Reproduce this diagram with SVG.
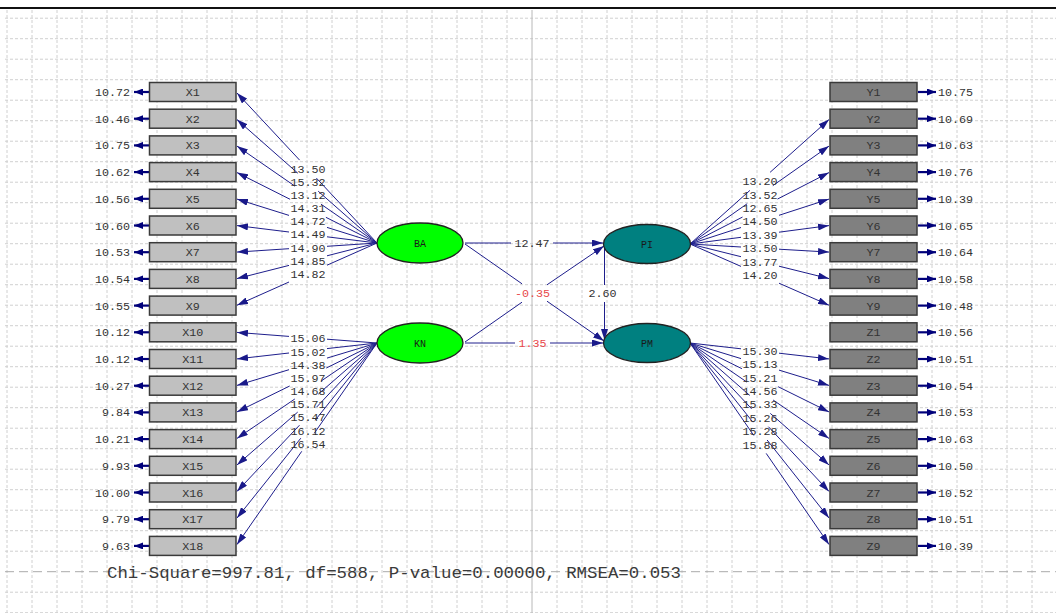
<svg xmlns="http://www.w3.org/2000/svg" width="1056" height="613" viewBox="0 0 1056 613">
<style>
.grid{stroke:#d0d0d0;stroke-width:1;stroke-dasharray:3 2;fill:none}
.bx{fill:#c0c0c0;stroke:#3a3a3a;stroke-width:1.5}
.by{fill:#808080;stroke:#3a3a3a;stroke-width:1.5}
.t{font-family:"Liberation Mono","Courier New",monospace;font-size:11.7px;fill:#333}
.c{text-anchor:middle}
.e{text-anchor:end}
.ln{stroke:#1e1e8c;stroke-width:1;fill:none}
.err{stroke:#00007a;stroke-width:2.2;fill:none}
.red{fill:#e8474a}
.lv{stroke:#222;stroke-width:1.3}
.g{fill:#00ff00}
.tl{fill:#008080}
.lt{font-family:"Liberation Mono","Courier New",monospace;font-size:10px;fill:#1a1a1a}
</style>
<defs>
<marker id="ah" markerUnits="userSpaceOnUse" markerWidth="11" markerHeight="7" refX="11" refY="3.5" orient="auto"><path d="M0,0 L11,3.5 L0,7 z" fill="#1a1a8a"/></marker>
<marker id="ae" markerUnits="userSpaceOnUse" markerWidth="9" markerHeight="7" refX="9" refY="3.5" orient="auto"><path d="M0,0 L9,3.5 L0,7 z" fill="#00007a"/></marker>
</defs>
<rect width="1056" height="613" fill="#ffffff"/>
<g id="grid">
<path class="grid" d="M7 10V613M32 10V613M57 10V613M82 10V613M107 10V613M132 10V613M157 10V613M182 10V613M207 10V613M232 10V613M257 10V613M282 10V613M307 10V613M332 10V613M357 10V613M382 10V613M407 10V613M432 10V613M457 10V613M482 10V613M507 10V613M557 10V613M582 10V613M607 10V613M632 10V613M657 10V613M682 10V613M707 10V613M732 10V613M757 10V613M782 10V613M807 10V613M832 10V613M857 10V613M882 10V613M907 10V613M932 10V613M957 10V613M982 10V613M1007 10V613M1032 10V613"/>
<path class="grid" d="M5 18.2H1056M5 38.7H1056M5 59.2H1056M5 79.7H1056M5 100.2H1056M5 120.7H1056M5 141.2H1056M5 161.7H1056M5 182.2H1056M5 202.7H1056M5 223.2H1056M5 243.7H1056M5 264.2H1056M5 284.7H1056M5 305.2H1056M5 325.7H1056M5 346.2H1056M5 366.7H1056M5 387.2H1056M5 407.7H1056M5 428.2H1056M5 448.7H1056M5 469.2H1056M5 489.7H1056M5 510.2H1056M5 530.7H1056M5 551.2H1056M5 592.2H1056M5 612.7H1056"/>
<path d="M532 10V613" stroke="#b8b8b8" stroke-width="1" fill="none"/>
<path d="M5 571.7H1056" stroke="#ababab" stroke-width="1" stroke-dasharray="9 5" fill="none"/>
<path d="M0 8H1056" stroke="#111" stroke-width="2" fill="none"/>
</g>
<g id="connectors">
<path class="ln" d="M377,243 L316.4,178.1"/><path class="ln" d="M299.6,160.1 L237,93" marker-end="url(#ah)"/>
<path class="ln" d="M377,243 L318.2,191.2"/><path class="ln" d="M297.8,173.2 L237,119.6" marker-end="url(#ah)"/>
<path class="ln" d="M377,243 L321,204.2"/><path class="ln" d="M295,186.2 L237,146.1" marker-end="url(#ah)"/>
<path class="ln" d="M377,243 L325.9,217.3"/><path class="ln" d="M290.1,199.3 L237,172.6" marker-end="url(#ah)"/>
<path class="ln" d="M377,243 L327,227.4"/><path class="ln" d="M289,215.4 L237,199.1" marker-end="url(#ah)"/>
<path class="ln" d="M377,243 L327,236.8"/><path class="ln" d="M289,232 L237,225.6" marker-end="url(#ah)"/>
<path class="ln" d="M377,243 L327,246.3"/><path class="ln" d="M289,248.7 L237,252.1" marker-end="url(#ah)"/>
<path class="ln" d="M377,243 L327,255.8"/><path class="ln" d="M289,265.4 L237,278.6" marker-end="url(#ah)"/>
<path class="ln" d="M377,243 L327,265.2"/><path class="ln" d="M289,282 L237,305.2" marker-end="url(#ah)"/>
<path class="ln" d="M377,343 L327,339.2"/><path class="ln" d="M289,336.4 L237,332.4" marker-end="url(#ah)"/>
<path class="ln" d="M377,343 L327,348.6"/><path class="ln" d="M289,353 L237,358.9" marker-end="url(#ah)"/>
<path class="ln" d="M377,343 L327,358.1"/><path class="ln" d="M289,369.7 L237,385.4" marker-end="url(#ah)"/>
<path class="ln" d="M377,343 L326.3,368"/><path class="ln" d="M289.7,386 L237,411.9" marker-end="url(#ah)"/>
<path class="ln" d="M377,343 L321.2,381"/><path class="ln" d="M294.8,399 L237,438.4" marker-end="url(#ah)"/>
<path class="ln" d="M377,343 L318.3,394.1"/><path class="ln" d="M297.7,412.1 L237,464.9" marker-end="url(#ah)"/>
<path class="ln" d="M377,343 L316.5,407.2"/><path class="ln" d="M299.5,425.2 L237,491.4" marker-end="url(#ah)"/>
<path class="ln" d="M377,343 L315.2,420.2"/><path class="ln" d="M300.8,438.2 L237,518" marker-end="url(#ah)"/>
<path class="ln" d="M377,343 L314.25,433.3"/><path class="ln" d="M301.75,451.3 L237,544.5" marker-end="url(#ah)"/>
<path class="ln" d="M690,244 L749.9,190.4"/><path class="ln" d="M770.1,172.3 L829,119.6" marker-end="url(#ah)"/>
<path class="ln" d="M690,244 L747.2,203.7"/><path class="ln" d="M772.8,185.7 L829,146.1" marker-end="url(#ah)"/>
<path class="ln" d="M690,244 L742.5,217.05"/><path class="ln" d="M777.5,199.05 L829,172.6" marker-end="url(#ah)"/>
<path class="ln" d="M690,244 L741,227.5"/><path class="ln" d="M779,215.3 L829,199.1" marker-end="url(#ah)"/>
<path class="ln" d="M690,244 L741,237.3"/><path class="ln" d="M779,232.2 L829,225.6" marker-end="url(#ah)"/>
<path class="ln" d="M690,244 L741,247"/><path class="ln" d="M779,249.2 L829,252.1" marker-end="url(#ah)"/>
<path class="ln" d="M690,244 L741,256.7"/><path class="ln" d="M779,266.2 L829,278.6" marker-end="url(#ah)"/>
<path class="ln" d="M690,244 L741,266.4"/><path class="ln" d="M779,283.2 L829,305.2" marker-end="url(#ah)"/>
<path class="ln" d="M690,343 L741,348.8"/><path class="ln" d="M779,353.2 L829,358.9" marker-end="url(#ah)"/>
<path class="ln" d="M690,343 L741,358.6"/><path class="ln" d="M779,370.1 L829,385.4" marker-end="url(#ah)"/>
<path class="ln" d="M690,343 L741.9,368.7"/><path class="ln" d="M778.1,386.7 L829,411.9" marker-end="url(#ah)"/>
<path class="ln" d="M690,343 L746.9,382.1"/><path class="ln" d="M773.1,400 L829,438.4" marker-end="url(#ah)"/>
<path class="ln" d="M690,343 L749.7,395.4"/><path class="ln" d="M770.3,413.4 L829,464.9" marker-end="url(#ah)"/>
<path class="ln" d="M690,343 L751.6,408.8"/><path class="ln" d="M768.4,426.7 L829,491.4" marker-end="url(#ah)"/>
<path class="ln" d="M690,343 L752.9,422.2"/><path class="ln" d="M767.1,440 L829,518" marker-end="url(#ah)"/>
<path class="ln" d="M690,343 L753.8,435.5"/><path class="ln" d="M766.2,453.4 L829,544.5" marker-end="url(#ah)"/>
<path class="ln" d="M465,243 H511"/><path class="ln" d="M553,243 H603" marker-end="url(#ah)"/>
<path class="ln" d="M465,343 H515"/><path class="ln" d="M550,343 H603" marker-end="url(#ah)"/>
<path class="ln" d="M465,244 L522,283.8"/><path class="ln" d="M547,301.2 L604,341" marker-end="url(#ah)"/>
<path class="ln" d="M465,342 L522,302.2"/><path class="ln" d="M547,284.8 L604,246" marker-end="url(#ah)"/>
<path class="ln" d="M604.5,247 V285"/><path class="ln" d="M604.5,302 V340" marker-end="url(#ah)"/>
<path class="err" d="M149,92H134" marker-end="url(#ae)"/><path class="err" d="M149,118.7H134" marker-end="url(#ae)"/><path class="err" d="M149,145.4H134" marker-end="url(#ae)"/><path class="err" d="M149,172.1H134" marker-end="url(#ae)"/><path class="err" d="M149,198.8H134" marker-end="url(#ae)"/><path class="err" d="M149,225.5H134" marker-end="url(#ae)"/><path class="err" d="M149,252.2H134" marker-end="url(#ae)"/><path class="err" d="M149,278.9H134" marker-end="url(#ae)"/><path class="err" d="M149,305.6H134" marker-end="url(#ae)"/><path class="err" d="M149,332.3H134" marker-end="url(#ae)"/><path class="err" d="M149,359H134" marker-end="url(#ae)"/><path class="err" d="M149,385.7H134" marker-end="url(#ae)"/><path class="err" d="M149,412.4H134" marker-end="url(#ae)"/><path class="err" d="M149,439.1H134" marker-end="url(#ae)"/><path class="err" d="M149,465.8H134" marker-end="url(#ae)"/><path class="err" d="M149,492.5H134" marker-end="url(#ae)"/><path class="err" d="M149,519.2H134" marker-end="url(#ae)"/><path class="err" d="M149,545.9H134" marker-end="url(#ae)"/>
<path class="err" d="M918,92H936" marker-end="url(#ae)"/><path class="err" d="M918,118.7H936" marker-end="url(#ae)"/><path class="err" d="M918,145.4H936" marker-end="url(#ae)"/><path class="err" d="M918,172.1H936" marker-end="url(#ae)"/><path class="err" d="M918,198.8H936" marker-end="url(#ae)"/><path class="err" d="M918,225.5H936" marker-end="url(#ae)"/><path class="err" d="M918,252.2H936" marker-end="url(#ae)"/><path class="err" d="M918,278.9H936" marker-end="url(#ae)"/><path class="err" d="M918,305.6H936" marker-end="url(#ae)"/><path class="err" d="M918,332.3H936" marker-end="url(#ae)"/><path class="err" d="M918,359H936" marker-end="url(#ae)"/><path class="err" d="M918,385.7H936" marker-end="url(#ae)"/><path class="err" d="M918,412.4H936" marker-end="url(#ae)"/><path class="err" d="M918,439.1H936" marker-end="url(#ae)"/><path class="err" d="M918,465.8H936" marker-end="url(#ae)"/><path class="err" d="M918,492.5H936" marker-end="url(#ae)"/><path class="err" d="M918,519.2H936" marker-end="url(#ae)"/><path class="err" d="M918,545.9H936" marker-end="url(#ae)"/>
<g class="t c">
<text x="308" y="173.1">13.50</text><text x="308" y="186.2">15.32</text><text x="308" y="199.2">13.12</text><text x="308" y="212.3">14.31</text><text x="308" y="225.4">14.72</text><text x="308" y="238.4">14.49</text><text x="308" y="251.5">14.90</text><text x="308" y="264.6">14.85</text><text x="308" y="277.6">14.82</text>
<text x="308" y="342.3">15.06</text><text x="308" y="355.5">15.02</text><text x="308" y="368.8">14.38</text><text x="308" y="382">15.97</text><text x="308" y="395">14.68</text><text x="308" y="408">15.71</text><text x="308" y="421.3">15.47</text><text x="308" y="434.5">16.12</text><text x="308" y="447.8">16.54</text>
<text x="760" y="185.4">13.20</text><text x="760" y="198.7">13.52</text><text x="760" y="212.1">12.65</text><text x="760" y="225.4">14.50</text><text x="760" y="238.8">13.39</text><text x="760" y="252.1">13.50</text><text x="760" y="265.5">13.77</text><text x="760" y="278.8">14.20</text>
<text x="760" y="355">15.30</text><text x="760" y="368.4">15.13</text><text x="760" y="381.7">15.21</text><text x="760" y="395.1">14.56</text><text x="760" y="408.4">15.33</text><text x="760" y="421.8">15.26</text><text x="760" y="435.1">15.28</text><text x="760" y="448.5">15.88</text>
<text x="532" y="247.3">12.47</text><text x="532.5" y="297.3" class="red">-0.35</text><text x="532.5" y="347" class="red">1.35</text><text x="602.5" y="297.3">2.60</text>
</g>
</g>
<g id="BA"><ellipse class="lv g" cx="420" cy="243" rx="43" ry="20"/><text class="lt c" x="420" y="246.5">BA</text></g>
<g id="KN"><ellipse class="lv g" cx="420" cy="343" rx="43" ry="20"/><text class="lt c" x="420" y="346.5">KN</text></g>
<g id="PI"><ellipse class="lv tl" cx="647" cy="244" rx="43.5" ry="19.5"/><text class="lt c" x="647" y="247.5">PI</text></g>
<g id="PM"><ellipse class="lv tl" cx="647" cy="343" rx="43.5" ry="19.5"/><text class="lt c" x="647" y="346.5">PM</text></g>
<g id="X1"><rect class="bx" x="149.5" y="82.5" width="86.5" height="19"/><text class="t c" x="192.75" y="96">X1</text><text class="t e" x="130" y="96">10.72</text></g>
<g id="X2"><rect class="bx" x="149.5" y="109.2" width="86.5" height="19"/><text class="t c" x="192.75" y="122.7">X2</text><text class="t e" x="130" y="122.7">10.46</text></g>
<g id="X3"><rect class="bx" x="149.5" y="135.9" width="86.5" height="19"/><text class="t c" x="192.75" y="149.4">X3</text><text class="t e" x="130" y="149.4">10.75</text></g>
<g id="X4"><rect class="bx" x="149.5" y="162.6" width="86.5" height="19"/><text class="t c" x="192.75" y="176.1">X4</text><text class="t e" x="130" y="176.1">10.62</text></g>
<g id="X5"><rect class="bx" x="149.5" y="189.3" width="86.5" height="19"/><text class="t c" x="192.75" y="202.8">X5</text><text class="t e" x="130" y="202.8">10.56</text></g>
<g id="X6"><rect class="bx" x="149.5" y="216" width="86.5" height="19"/><text class="t c" x="192.75" y="229.5">X6</text><text class="t e" x="130" y="229.5">10.60</text></g>
<g id="X7"><rect class="bx" x="149.5" y="242.7" width="86.5" height="19"/><text class="t c" x="192.75" y="256.2">X7</text><text class="t e" x="130" y="256.2">10.53</text></g>
<g id="X8"><rect class="bx" x="149.5" y="269.4" width="86.5" height="19"/><text class="t c" x="192.75" y="282.9">X8</text><text class="t e" x="130" y="282.9">10.54</text></g>
<g id="X9"><rect class="bx" x="149.5" y="296.1" width="86.5" height="19"/><text class="t c" x="192.75" y="309.6">X9</text><text class="t e" x="130" y="309.6">10.55</text></g>
<g id="X10"><rect class="bx" x="149.5" y="322.8" width="86.5" height="19"/><text class="t c" x="192.75" y="336.3">X10</text><text class="t e" x="130" y="336.3">10.12</text></g>
<g id="X11"><rect class="bx" x="149.5" y="349.5" width="86.5" height="19"/><text class="t c" x="192.75" y="363">X11</text><text class="t e" x="130" y="363">10.12</text></g>
<g id="X12"><rect class="bx" x="149.5" y="376.2" width="86.5" height="19"/><text class="t c" x="192.75" y="389.7">X12</text><text class="t e" x="130" y="389.7">10.27</text></g>
<g id="X13"><rect class="bx" x="149.5" y="402.9" width="86.5" height="19"/><text class="t c" x="192.75" y="416.4">X13</text><text class="t e" x="130" y="416.4">9.84</text></g>
<g id="X14"><rect class="bx" x="149.5" y="429.6" width="86.5" height="19"/><text class="t c" x="192.75" y="443.1">X14</text><text class="t e" x="130" y="443.1">10.21</text></g>
<g id="X15"><rect class="bx" x="149.5" y="456.3" width="86.5" height="19"/><text class="t c" x="192.75" y="469.8">X15</text><text class="t e" x="130" y="469.8">9.93</text></g>
<g id="X16"><rect class="bx" x="149.5" y="483" width="86.5" height="19"/><text class="t c" x="192.75" y="496.5">X16</text><text class="t e" x="130" y="496.5">10.00</text></g>
<g id="X17"><rect class="bx" x="149.5" y="509.7" width="86.5" height="19"/><text class="t c" x="192.75" y="523.2">X17</text><text class="t e" x="130" y="523.2">9.79</text></g>
<g id="X18"><rect class="bx" x="149.5" y="536.4" width="86.5" height="19"/><text class="t c" x="192.75" y="549.9">X18</text><text class="t e" x="130" y="549.9">9.63</text></g>
<g id="Y1"><rect class="by" x="830" y="82.5" width="87" height="19"/><text class="t c" x="873.5" y="96">Y1</text><text class="t" x="938" y="96">10.75</text></g>
<g id="Y2"><rect class="by" x="830" y="109.2" width="87" height="19"/><text class="t c" x="873.5" y="122.7">Y2</text><text class="t" x="938" y="122.7">10.69</text></g>
<g id="Y3"><rect class="by" x="830" y="135.9" width="87" height="19"/><text class="t c" x="873.5" y="149.4">Y3</text><text class="t" x="938" y="149.4">10.63</text></g>
<g id="Y4"><rect class="by" x="830" y="162.6" width="87" height="19"/><text class="t c" x="873.5" y="176.1">Y4</text><text class="t" x="938" y="176.1">10.76</text></g>
<g id="Y5"><rect class="by" x="830" y="189.3" width="87" height="19"/><text class="t c" x="873.5" y="202.8">Y5</text><text class="t" x="938" y="202.8">10.39</text></g>
<g id="Y6"><rect class="by" x="830" y="216" width="87" height="19"/><text class="t c" x="873.5" y="229.5">Y6</text><text class="t" x="938" y="229.5">10.65</text></g>
<g id="Y7"><rect class="by" x="830" y="242.7" width="87" height="19"/><text class="t c" x="873.5" y="256.2">Y7</text><text class="t" x="938" y="256.2">10.64</text></g>
<g id="Y8"><rect class="by" x="830" y="269.4" width="87" height="19"/><text class="t c" x="873.5" y="282.9">Y8</text><text class="t" x="938" y="282.9">10.58</text></g>
<g id="Y9"><rect class="by" x="830" y="296.1" width="87" height="19"/><text class="t c" x="873.5" y="309.6">Y9</text><text class="t" x="938" y="309.6">10.48</text></g>
<g id="Z1"><rect class="by" x="830" y="322.8" width="87" height="19"/><text class="t c" x="873.5" y="336.3">Z1</text><text class="t" x="938" y="336.3">10.56</text></g>
<g id="Z2"><rect class="by" x="830" y="349.5" width="87" height="19"/><text class="t c" x="873.5" y="363">Z2</text><text class="t" x="938" y="363">10.51</text></g>
<g id="Z3"><rect class="by" x="830" y="376.2" width="87" height="19"/><text class="t c" x="873.5" y="389.7">Z3</text><text class="t" x="938" y="389.7">10.54</text></g>
<g id="Z4"><rect class="by" x="830" y="402.9" width="87" height="19"/><text class="t c" x="873.5" y="416.4">Z4</text><text class="t" x="938" y="416.4">10.53</text></g>
<g id="Z5"><rect class="by" x="830" y="429.6" width="87" height="19"/><text class="t c" x="873.5" y="443.1">Z5</text><text class="t" x="938" y="443.1">10.63</text></g>
<g id="Z6"><rect class="by" x="830" y="456.3" width="87" height="19"/><text class="t c" x="873.5" y="469.8">Z6</text><text class="t" x="938" y="469.8">10.50</text></g>
<g id="Z7"><rect class="by" x="830" y="483" width="87" height="19"/><text class="t c" x="873.5" y="496.5">Z7</text><text class="t" x="938" y="496.5">10.52</text></g>
<g id="Z8"><rect class="by" x="830" y="509.7" width="87" height="19"/><text class="t c" x="873.5" y="523.2">Z8</text><text class="t" x="938" y="523.2">10.51</text></g>
<g id="Z9"><rect class="by" x="830" y="536.4" width="87" height="19"/><text class="t c" x="873.5" y="549.9">Z9</text><text class="t" x="938" y="549.9">10.39</text></g>
<text x="107" y="577.5" style="font-family:'Liberation Mono','Courier New',monospace;font-size:17.4px;fill:#3a3a3a">Chi-Square=997.81, df=588, P-value=0.00000, RMSEA=0.053</text>
</svg>
